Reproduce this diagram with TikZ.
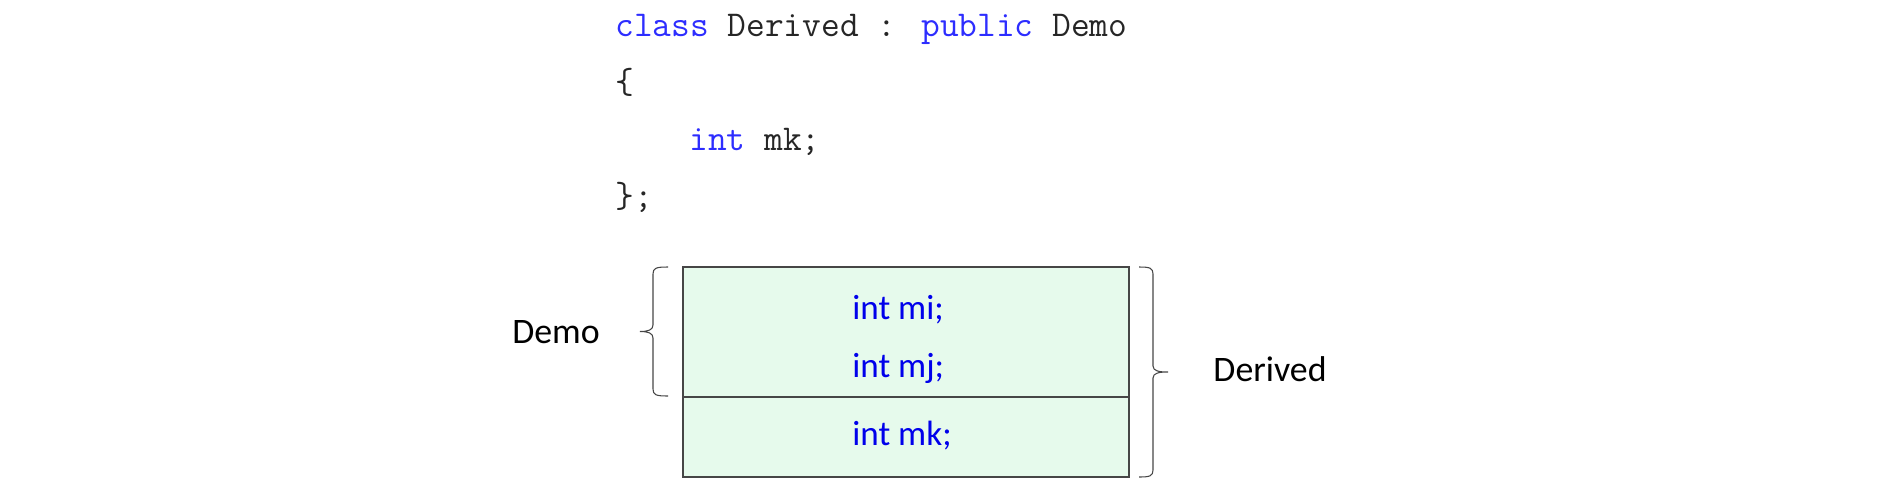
\documentclass[tikz,border=0pt]{standalone}
\usepackage{fontspec}
\setmainfont{Carlito}
\usetikzlibrary{decorations.pathreplacing}
\definecolor{kwblue}{RGB}{45,45,255}
\definecolor{fieldblue}{RGB}{0,0,235}
\definecolor{cellgreen}{RGB}{230,250,236}
\definecolor{edgegray}{RGB}{70,70,70}

\begin{document}
\begin{tikzpicture}[x=0.02cm,y=-0.02cm,
  srcline/.style={anchor=base west,inner sep=0pt,text=black!85,font=\ttfamily\fontsize{20.7}{24}\selectfont},
  field/.style={anchor=base west,inner sep=0pt,text=fieldblue,font=\fontsize{20}{24}\selectfont},
  sidetext/.style={anchor=base,inner sep=0pt,font=\fontsize{20.4}{24}\selectfont},
  bracket/.style={draw=edgegray,line width=0.6pt}]
\useasboundingbox (0,0) rectangle (1878,487);
% class declaration
\node[srcline] (decl) at (615,36) {\textcolor{kwblue}{class} Derived : \textcolor{kwblue}{public} Demo};
\node[srcline] (open) at (615,93) {\{};
\node[srcline] (body) at (689,150) {\textcolor{kwblue}{int} mk;};
\node[srcline] (close) at (615,207) {\};};
% object layout
\fill[cellgreen] (683,267) rectangle (1129,477);
\draw[edgegray,line width=0.9pt] (683,267) rectangle (1129,397);
\draw[edgegray,line width=0.9pt] (683,397) rectangle (1129,477);
\node[field] (mi) at (852,319) {int mi;};
\node[field] (mj) at (852,377) {int mj;};
\node[field] (mk) at (852,445) {int mk;};
% braces
\draw[bracket] (668,267) .. controls (656,267) and (653,268) .. (653,274) -- (653,325)
  .. controls (653,330) and (648,331.5) .. (640,331.5)
  .. controls (648,331.5) and (653,333) .. (653,338) -- (653,389)
  .. controls (653,395) and (656,396) .. (668,396);
\draw[bracket] (1139,267) .. controls (1150,267) and (1153,268) .. (1153,274) -- (1153,366)
  .. controls (1153,371) and (1159,372) .. (1168,372)
  .. controls (1159,372) and (1153,373) .. (1153,378) -- (1153,470)
  .. controls (1153,476) and (1150,477) .. (1139,477);
\node[sidetext] (demo) at (556,343) {Demo};
\node[sidetext] (derived) at (1270,381) {Derived};
\end{tikzpicture}
\end{document}
